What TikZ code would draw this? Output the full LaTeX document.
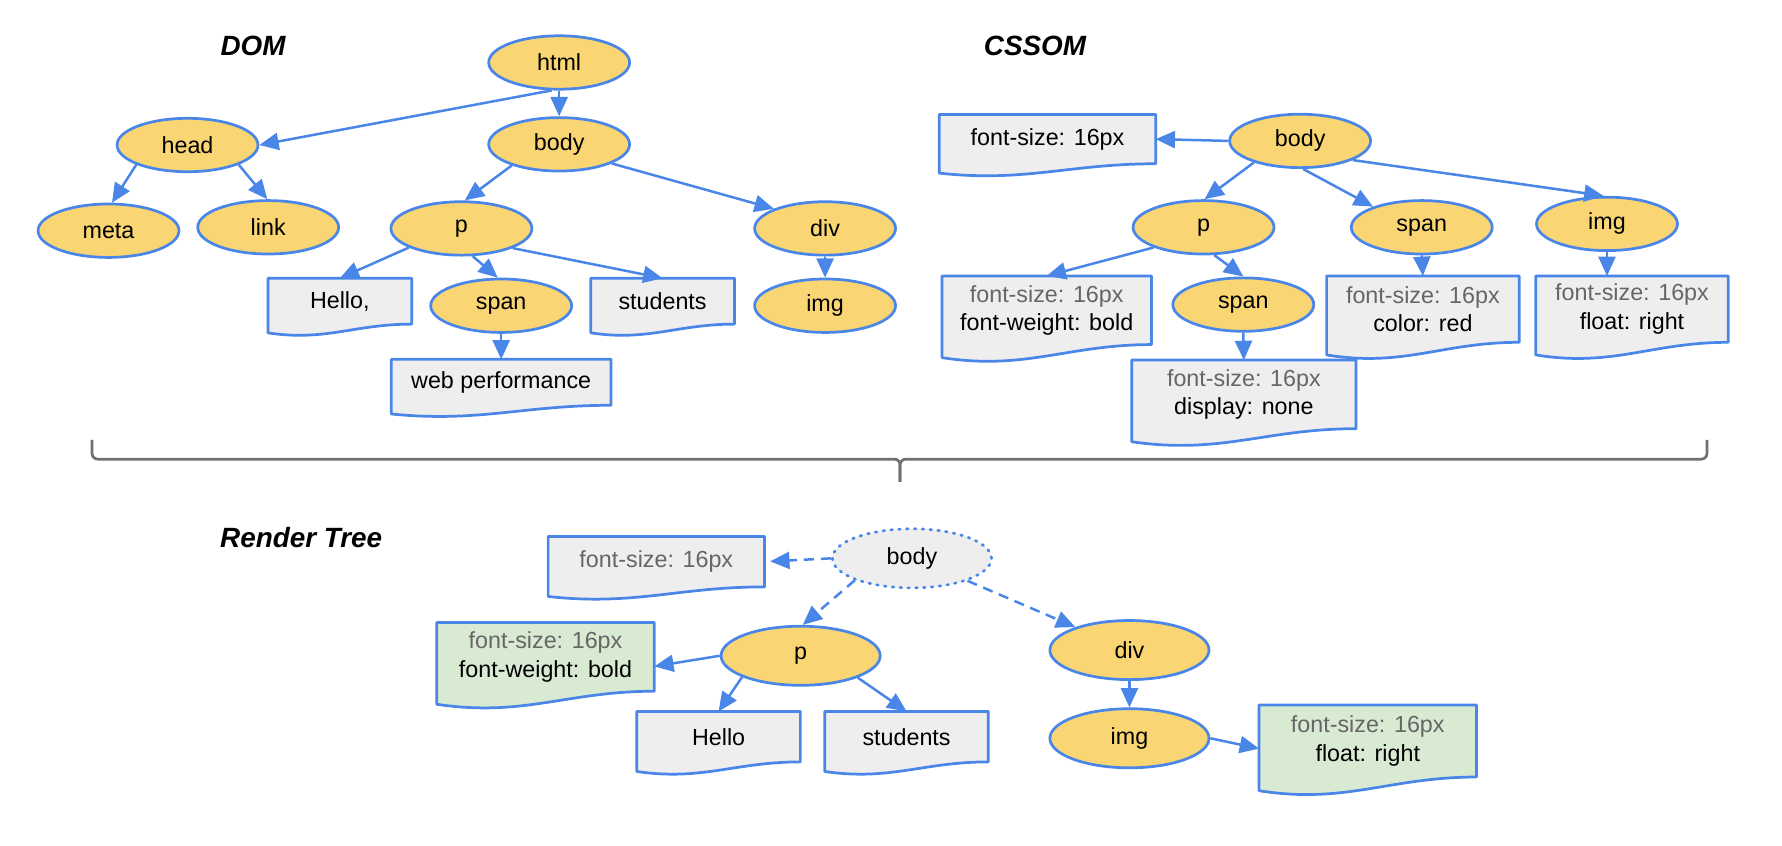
\documentclass[tikz,border=0pt]{standalone}
\usepackage{fontspec}
\setmainfont{Liberation Sans}
\usetikzlibrary{arrows.meta,calc,backgrounds,shapes.geometric}

\definecolor{nodeyellow}{RGB}{249,214,115}
\definecolor{lineblue}{RGB}{74,134,232}
\definecolor{boxgray}{RGB}{238,238,238}
\definecolor{boxgreen}{RGB}{217,234,211}
\definecolor{textgray}{RGB}{102,102,102}
\definecolor{bracegray}{RGB}{112,112,112}

\tikzset{
  elem/.style={ellipse, draw=lineblue, line width=2.4pt, fill=nodeyellow,
    minimum width=124pt, minimum height=47pt, inner sep=0pt},
  bigelem/.style={elem, minimum width=140pt, minimum height=52pt},
  ghost/.style={bigelem, fill=boxgray, dash pattern=on 1.4pt off 5.5pt, line cap=round},
  docbox/.style 2 args={rectangle, inner sep=0pt, align=center,
    minimum width=#1, minimum height=#2},
  docline/.style={draw=lineblue, line width=2.4pt, line join=round},
  arr/.style={draw=lineblue, line width=2.2pt, -{Triangle[length=17pt,width=15pt]}},
  dasharr/.style={arr, dash pattern=on 9pt off 6pt},
  title/.style={font=\fontsize{24.5pt}{28pt}\selectfont\bfseries\itshape},
  curly/.style={draw=bracegray, line width=2.4pt, rounded corners=5pt},
}

\newcommand{\fs}{\textcolor{textgray}{font-size: 16px}}

\begin{document}
\begin{tikzpicture}[x=1pt, y=-1pt, font=\fontsize{20.5pt}{25pt}\selectfont]
  \useasboundingbox (0,0) rectangle (1568,744.4);

  % titles
  \node[title] (tdom) at (222.7,40) {DOM};
  \node[title] (tcss) at (910.7,40) {CSSOM};
  \node[title] (trender) at (265,473) {Render Tree};

  % DOM
  \node[elem] (html) at (492,55) {html};
  \node[elem] (head) at (165,127.6) {head};
  \node[elem] (body) at (492,127) {body};
  \node[elem] (meta) at (95.5,203) {meta};
  \node[elem] (link) at (236,200) {link};
  \node[elem] (p) at (406,201) {p};
  \node[elem] (dspan) at (441,269) {span};
  \node[elem] (ddiv) at (726,201) {div};
  \node[elem] (dimg) at (726,269) {img};
  \node[docbox={126pt}{40pt}] (dhello) at (299,265) {Hello,};
  \node[docbox={126pt}{40pt}] (dstud) at (583,265) {students};
  \node[docbox={193pt}{40pt}] (dweb) at (441,336.4) {web performance};

  % CSSOM
  \node[elem] (cbody) at (1144,124) {body};
  \node[elem] (cp) at (1059,200) {p};
  \node[elem] (cspan) at (1251,200) {span};
  \node[elem] (cimg) at (1414,197) {img};
  \node[elem] (cspantwo) at (1094,268) {span};
  \node[docbox={190pt}{43pt}] (cfont) at (921.7,122.4) {font-size: 16px};
  \node[docbox={184pt}{60pt}] (cpbox) at (921,273) {\fs\\font-weight: bold};
  \node[docbox={197pt}{60pt}] (cspanbox) at (1094.5,347) {\fs\\display: none};
  \node[docbox={169pt}{58pt}] (ccolor) at (1252,272) {\fs\\color: red};
  \node[docbox={169pt}{58pt}] (cfloat) at (1436,272) {\fs\\float: right};

  % render tree
  \node[ghost] (rbody) at (802.4,491.3) {body};
  \node[bigelem] (rp) at (704.5,577) {p};
  \node[bigelem] (rdiv) at (993.8,572) {div};
  \node[bigelem] (rimg) at (993.8,649.6) {img};
  \node[docbox={190pt}{44pt}] (rfont) at (577.5,494.2) {\fs};
  \node[docbox={191pt}{60pt}] (rpbox) at (480,578) {\fs\\font-weight: bold};
  \node[docbox={143.5pt}{44pt}] (rhello) at (632.3,648.2) {Hello};
  \node[docbox={143.5pt}{44pt}] (rstud) at (797.7,648.2) {students};
  \node[docbox={191pt}{63pt}] (rimgbox) at (1203.5,652) {\fs\\float: right};

  \begin{scope}[on background layer]
    \foreach \bx/\fc in {dhello/boxgray, dstud/boxgray, dweb/boxgray,
        cfont/boxgray, cpbox/boxgray, cspanbox/boxgray, ccolor/boxgray,
        cfloat/boxgray, rfont/boxgray, rhello/boxgray, rstud/boxgray,
        rpbox/boxgreen, rimgbox/boxgreen}
      \draw[docline, fill=\fc]
        let \p1=(\bx.north west), \p2=(\bx.south east),
            \n1={0.19*(\y1-\y2)}, \n2={\x2-\x1} in
        (\x1,\y1) -- (\x2,\y1) -- (\x2,\y2)
        .. controls (\x1+0.6*\n2,\y2) and (\x1+0.4*\n2,\y2-2*\n1) .. (\x1,\y2-\n1)
        -- cycle;
  \end{scope}

  % DOM links
  \draw[arr] (html.255) -- (head.east);
  \draw[arr] (html.south) -- (body.north);
  \draw[arr] (head.201) -- (meta.83);
  \draw[arr] (head.339) -- (link.92);
  \draw[arr] (body.204) -- (p.83);
  \draw[arr] (body.340) -- (ddiv.159);
  \draw[arr] (p.200) -- (dhello.north);
  \draw[arr] (p.292) -- (dspan.97);
  \draw[arr] (p.339) -- (dstud.north);
  \draw[arr] (dspan.south) -- (dweb.north);
  \draw[arr] (ddiv.south) -- (dimg.north);

  % CSSOM links
  \draw[arr] (cbody.west) -- (cfont.east);
  \draw[arr] (cbody.205) -- (cp.88);
  \draw[arr] (cbody.276) -- (cspan.157);
  \draw[arr] (cbody.340) -- (cimg.97);
  \draw[arr] (cp.202) -- (cpbox.north);
  \draw[arr] (cp.291) -- (cspantwo.north);
  \draw[arr] (cspantwo.south) -- (cspanbox.north);
  \draw[arr] (cspan.south) -- (ccolor.north);
  \draw[arr] (cimg.south) -- (cimg.south |- cfloat.north);

  % render tree links
  \draw[dasharr, shorten >=5pt] (rbody.west) -- (rfont.east);
  \draw[dasharr] (rbody.201) -- (rp.86);
  \draw[dasharr] (rbody.338) -- (rdiv.157);
  \draw[arr] (rp.west) -- (rpbox.-5);
  \draw[arr] (rp.200) -- (rhello.north);
  \draw[arr] (rp.339) -- (rstud.north);
  \draw[arr] (rdiv.south) -- (rimg.north);
  \draw[arr] (rimg.east) -- (rimgbox.184);

  % brace
  \draw[curly] (81,387) |- (792,404) -- (792,424);
  \draw[curly] (1502,387) |- (792,404) -- (792,424);
\end{tikzpicture}
\end{document}
